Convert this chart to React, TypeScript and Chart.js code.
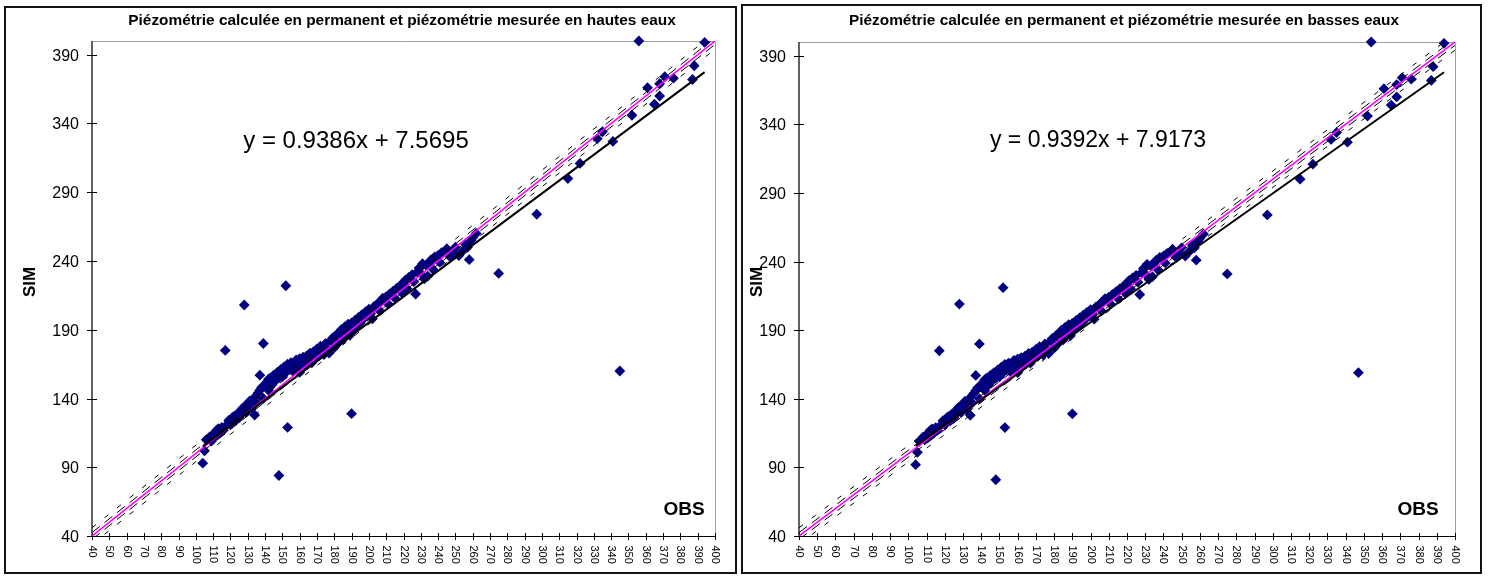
import React, { useEffect, useRef } from "react";
import { Chart, registerables } from "chart.js";

Chart.register(...registerables);

const xTickLabels = [40, 50, 60, 70, 80, 90, 100, 110, 120, 130, 140, 150, 160, 170, 180, 190, 200, 210, 220, 230, 240, 250, 260, 270, 280, 290, 300, 310, 320, 330, 340, 350, 360, 370, 380, 390, 400];
const yTickLabels = [40, 90, 140, 190, 240, 290, 340, 390];
const axisMin = 40;
const axisMax = 400;
const bandOffsets = [-6, -2.5, 2.5, 6];

// [OBS, SIM] hautes eaux
const pointsHautes: [number, number][] = [
  [104, 93], [105, 102], [106, 110], [108, 112], [109, 109], [110, 114], [111, 112], [112, 117], [113, 118], [114, 115],
  [115, 119], [116, 117], [117, 175], [118, 121], [119, 124], [120, 121], [121, 126], [122, 127], [123, 124], [124, 129],
  [125, 126], [126, 130], [127, 133], [128, 208], [128, 134], [129, 130], [130, 136], [131, 138], [132, 133], [133, 139],
  [134, 128], [134, 141], [135, 137], [136, 144], [137, 146], [137, 157], [138, 148], [139, 140], [139, 180], [140, 150],
  [141, 152], [142, 146], [142, 154], [143, 155], [144, 150], [145, 157], [146, 153], [147, 159], [148, 84], [148, 155],
  [149, 161], [150, 156], [151, 163], [152, 222], [152, 159], [153, 119], [153, 165], [154, 161], [155, 166], [156, 160],
  [157, 163], [158, 168], [159, 162], [160, 159], [160, 169], [161, 165], [162, 170], [163, 164], [164, 171], [165, 168],
  [166, 173], [167, 166], [168, 174], [169, 170], [170, 176], [171, 171], [172, 178], [173, 174], [174, 172], [175, 180],
  [176, 176], [177, 173], [178, 182], [179, 184], [180, 177], [181, 186], [182, 180], [183, 188], [184, 190], [185, 183],
  [186, 192], [187, 188], [188, 194], [189, 186], [190, 129], [190, 195], [191, 190], [192, 197], [193, 192], [194, 199],
  [195, 195], [196, 201], [197, 198], [198, 203], [199, 200], [200, 205], [201, 202], [202, 198], [203, 207], [205, 209],
  [206, 204], [207, 211], [208, 213], [210, 214], [211, 209], [212, 216], [214, 218], [215, 213], [216, 220], [218, 222],
  [219, 217], [220, 224], [221, 226], [222, 220], [223, 228], [225, 230], [226, 225], [227, 216], [228, 232], [229, 235],
  [230, 231], [231, 238], [232, 227], [233, 237], [234, 229], [235, 239], [236, 241], [237, 234], [238, 243], [240, 244],
  [241, 239], [242, 246], [244, 247], [245, 249], [247, 243], [249, 246], [250, 250], [252, 244], [254, 247], [256, 252],
  [257, 250], [258, 241], [259, 255], [260, 257], [262, 260], [275, 231], [297, 274], [315, 300], [322, 311], [332, 329],
  [335, 334], [341, 327], [345, 160], [352, 346], [356, 400], [361, 366], [365, 354], [368, 360], [368, 369], [371, 374],
  [376, 373], [387, 372], [388, 382], [394, 399],
];

// [OBS, SIM] basses eaux
const pointsBasses: [number, number][] = [
  [104, 92], [105, 101], [106, 109], [108, 112], [109, 110], [110, 114], [111, 112], [112, 117], [113, 118], [114, 115],
  [115, 119], [116, 117], [117, 175], [118, 121], [119, 124], [120, 121], [121, 126], [122, 127], [123, 124], [124, 129],
  [125, 126], [126, 130], [127, 133], [128, 209], [128, 134], [129, 130], [130, 136], [131, 138], [132, 133], [133, 139],
  [134, 128], [134, 141], [135, 137], [136, 144], [137, 146], [137, 157], [138, 148], [139, 140], [139, 180], [140, 150],
  [141, 152], [142, 146], [142, 154], [143, 155], [144, 150], [145, 157], [146, 153], [147, 159], [148, 81], [148, 155],
  [149, 161], [150, 156], [151, 163], [152, 221], [152, 159], [153, 119], [153, 165], [154, 161], [155, 166], [156, 160],
  [157, 163], [158, 168], [159, 162], [160, 159], [160, 169], [161, 165], [162, 170], [163, 164], [164, 171], [165, 168],
  [166, 173], [167, 166], [168, 174], [169, 170], [170, 176], [171, 171], [172, 178], [173, 174], [174, 172], [175, 180],
  [176, 176], [177, 173], [178, 182], [179, 184], [180, 177], [181, 186], [182, 180], [183, 188], [184, 190], [185, 183],
  [186, 192], [187, 188], [188, 194], [189, 186], [190, 129], [190, 195], [191, 190], [192, 197], [193, 192], [194, 199],
  [195, 195], [196, 201], [197, 198], [198, 203], [199, 200], [200, 205], [201, 202], [202, 198], [203, 207], [205, 209],
  [206, 204], [207, 211], [208, 213], [210, 214], [211, 209], [212, 216], [214, 218], [215, 213], [216, 220], [218, 222],
  [219, 217], [220, 224], [221, 226], [222, 220], [223, 228], [225, 230], [226, 225], [227, 216], [228, 232], [229, 235],
  [230, 231], [231, 238], [232, 227], [233, 237], [234, 229], [235, 239], [236, 241], [237, 234], [238, 243], [240, 244],
  [241, 239], [242, 246], [244, 247], [245, 249], [247, 243], [249, 246], [250, 250], [252, 244], [254, 247], [256, 252],
  [257, 250], [258, 241], [259, 255], [260, 257], [262, 260], [275, 231], [297, 274], [315, 300], [322, 311], [332, 329],
  [335, 334], [341, 327], [347, 159], [352, 346], [354, 400], [361, 366], [365, 354], [368, 360], [368, 369], [371, 374],
  [376, 373], [387, 372], [388, 382], [394, 399],
];

const titleHautes = "Piézométrie calculée en permanent et piézométrie mesurée en hautes eaux";
const titleBasses = "Piézométrie calculée en permanent et piézométrie mesurée en basses eaux";
const slopeHautes = 0.9386;
const interceptHautes = 7.5695;
const slopeBasses = 0.9392;
const interceptBasses = 7.9173;

const FONT = '"Liberation Sans", Arial, sans-serif';

type PanelProps = {
  points: [number, number][];
  title: string;
  slope: number;
  intercept: number;
  width: number;
  height: number;
  padding: { left: number; right: number; top: number; bottom: number };
  titleX: number;
  eqX: number;
  eqSize: number;
  simX: number;
  obsX: number;
};

function Panel(p: PanelProps) {
  const ref = useRef<HTMLCanvasElement>(null);
  useEffect(() => {
    const canvas = ref.current!;
    const pts = p.points.map(([x, y]) => ({ x, y }));
    const xs = p.points.map((d) => d[0]);
    const xmin = Math.min(...xs);
    const xmax = Math.max(...xs);
    const reg = [
      { x: xmin, y: p.slope * xmin + p.intercept },
      { x: xmax, y: p.slope * xmax + p.intercept },
    ];
    const eqText = `y = ${p.slope.toFixed(4)}x + ${p.intercept.toFixed(4)}`;

    const decor = {
      id: "decor",
      beforeDatasetsDraw(chart: any) {
        const ctx = chart.ctx as CanvasRenderingContext2D;
        const ca = chart.chartArea;
        const sx = chart.scales.x;
        const sy = chart.scales.y;
        ctx.save();
        ctx.strokeStyle = "#a0a0a0";
        ctx.lineWidth = 1;
        ctx.beginPath();
        ctx.moveTo(ca.left, Math.round(ca.top) + 0.5);
        ctx.lineTo(Math.round(ca.right) + 0.5, Math.round(ca.top) + 0.5);
        ctx.lineTo(Math.round(ca.right) + 0.5, ca.bottom);
        ctx.stroke();
        const ax = Math.round(ca.left);
        ctx.strokeStyle = "#3a3a3a";
        ctx.lineWidth = 1.6;
        ctx.beginPath();
        ctx.moveTo(ax, ca.top);
        ctx.lineTo(ax, ca.bottom);
        ctx.stroke();
        ctx.strokeStyle = "#000";
        ctx.lineWidth = 1;
        ctx.fillStyle = "#000";
        ctx.font = `16px ${FONT}`;
        ctx.textAlign = "right";
        ctx.textBaseline = "middle";
        for (const v of yTickLabels) {
          const py = Math.round(sy.getPixelForValue(v)) + 0.5;
          ctx.beginPath();
          ctx.moveTo(ax - 5, py);
          ctx.lineTo(ax + 5, py);
          ctx.stroke();
          ctx.fillText(String(v), ax - 13, py + 1);
        }
        const ay = Math.round(ca.bottom) + 0.5;
        ctx.beginPath();
        ctx.moveTo(ca.left, ay);
        ctx.lineTo(ca.right, ay);
        ctx.stroke();
        ctx.font = `11px ${FONT}`;
        ctx.textAlign = "left";
        for (const v of xTickLabels) {
          const px = Math.round(sx.getPixelForValue(v)) + 0.5;
          ctx.beginPath();
          ctx.moveTo(px, ay - 3.5);
          ctx.lineTo(px, ay + 3.5);
          ctx.stroke();
          ctx.save();
          ctx.translate(px, ay + 9);
          ctx.rotate(Math.PI / 2);
          ctx.fillText(String(v), 0, 0);
          ctx.restore();
        }
        ctx.restore();
      },
      afterDraw(chart: any) {
        const ctx = chart.ctx as CanvasRenderingContext2D;
        ctx.save();
        ctx.fillStyle = "#000";
        ctx.textBaseline = "middle";
        ctx.textAlign = "center";
        ctx.font = `bold 15.4px ${FONT}`;
        ctx.fillText(p.title, p.titleX, 21);
        ctx.font = `${p.eqSize}px ${FONT}`;
        ctx.fillText(eqText, p.eqX, 141);
        ctx.font = `bold 19px ${FONT}`;
        ctx.fillText("OBS", p.obsX, 510);
        ctx.save();
        ctx.translate(p.simX, 282);
        ctx.rotate(-Math.PI / 2);
        ctx.font = `bold 17px ${FONT}`;
        ctx.fillText("SIM", 0, 0);
        ctx.restore();
        ctx.restore();
      },
    };

    const line = (data: { x: number; y: number }[], color: string, width: number, dash: number[] = []) => ({
      type: "scatter" as const,
      data,
      showLine: true,
      borderColor: color,
      borderWidth: width,
      borderDash: dash,
      pointRadius: 0,
      pointHoverRadius: 0,
      fill: false,
      order: 0,
    });

    const datasets: any[] = [
      line(reg, "#000000", 2),
      line([{ x: axisMin, y: axisMin }, { x: axisMax, y: axisMax }], "#ff00ff", 1.6),
      ...bandOffsets.map((d) =>
        line(
          [{ x: axisMin, y: axisMin + d }, { x: axisMax, y: axisMax + d }],
          "#000000",
          1,
          Math.abs(d) > 4 ? [5, 11] : [10, 6]
        )
      ),
      {
        type: "scatter",
        data: pts,
        pointStyle: "rectRot",
        pointRadius: 5.4,
        backgroundColor: "#000080",
        borderColor: "#000080",
        borderWidth: 0,
        clip: false,
        order: 1,
      },
    ];

    const chart = new Chart(canvas, {
      type: "scatter",
      data: { datasets },
      options: {
        animation: false,
        responsive: false,
        devicePixelRatio: 1,
        layout: { padding: p.padding },
        plugins: { legend: { display: false }, tooltip: { enabled: false }, title: { display: false } },
        scales: {
          x: { type: "linear", min: axisMin, max: axisMax, display: false },
          y: { type: "linear", min: axisMin, max: axisMax, display: false },
        },
      },
      plugins: [decor],
    } as any);
    return () => chart.destroy();
  }, []);
  return <canvas ref={ref} width={p.width} height={p.height} style={{ display: "block", width: p.width, height: p.height }} />;
}

export default function App() {
  return (
    <div style={{ position: "absolute", left: 0, top: 0, width: 1488, height: 578, background: "#fff", overflow: "hidden" }}>
      <div style={{ position: "absolute", left: 4, top: 6, width: 733, height: 568, border: "2px solid #111", boxSizing: "border-box" }} />
      <div style={{ position: "absolute", left: 741, top: 4, width: 741, height: 570, border: "2px solid #111", boxSizing: "border-box" }} />
      <div style={{ position: "absolute", left: 0, top: 0 }}>
        <Panel
          points={pointsHautes}
          title={titleHautes}
          slope={slopeHautes}
          intercept={interceptHautes}
          width={740}
          height={578}
          padding={{ left: 92, right: 25, top: 41, bottom: 42 }}
          titleX={402}
          eqX={356}
          eqSize={24}
          simX={30}
          obsX={684}
        />
      </div>
      <div style={{ position: "absolute", left: 740, top: 0 }}>
        <Panel
          points={pointsBasses}
          title={titleBasses}
          slope={slopeBasses}
          intercept={interceptBasses}
          width={748}
          height={578}
          padding={{ left: 59, right: 33, top: 42, bottom: 42 }}
          titleX={384}
          eqX={358}
          eqSize={23}
          simX={17}
          obsX={678}
        />
      </div>
    </div>
  );
}
